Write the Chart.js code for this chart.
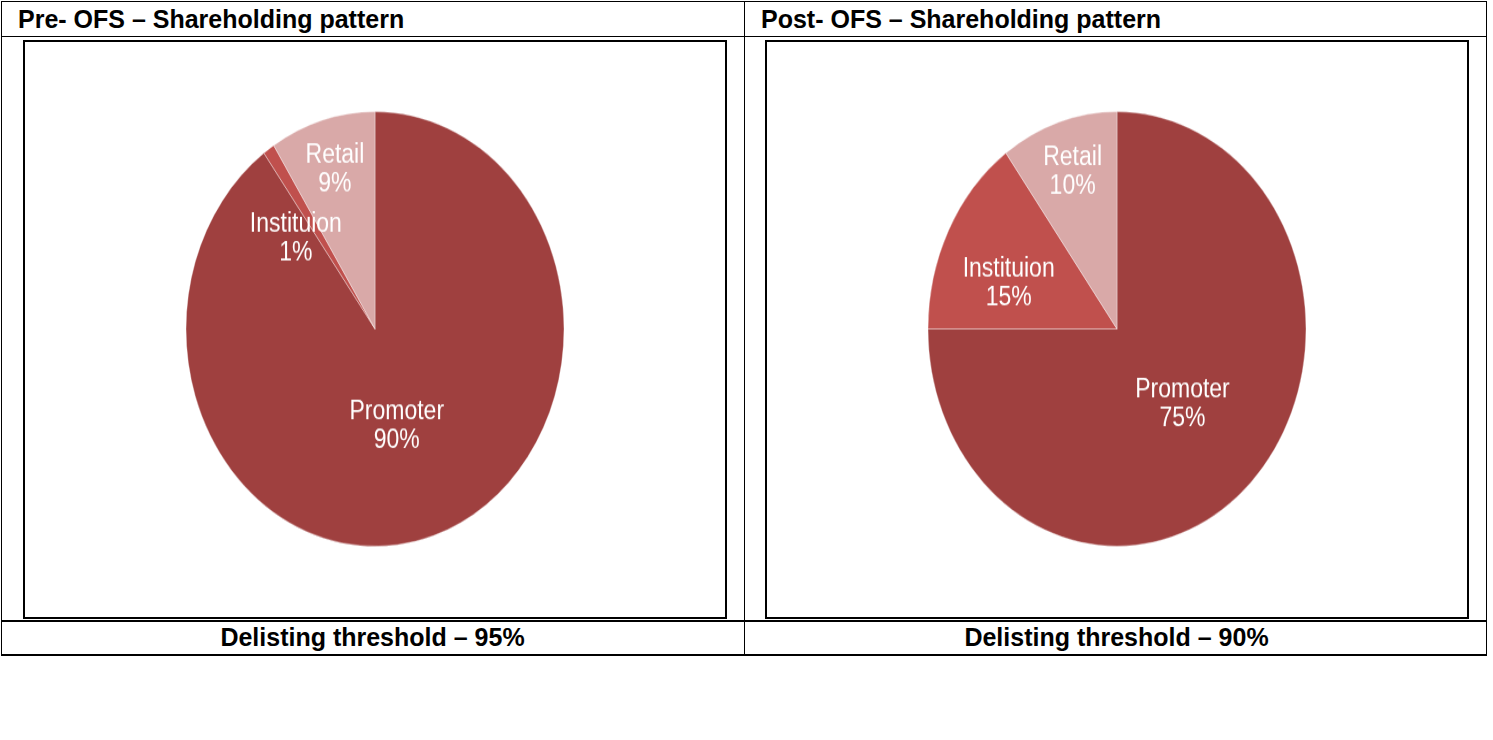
<!DOCTYPE html>
<html lang="en">
  <head>
    <meta charset="UTF-8" />
    <title>Shareholding pattern</title>
    <script src="https://cdn.jsdelivr.net/npm/chart.js"></script>
    <style>
      body {
        margin: 0;
        background: #fff;
        font-family: "Liberation Sans Narrow", "Arial Narrow", "Liberation Sans", Arial, sans-serif;
      }
      .line {
        position: absolute;
        background: #000;
      }
      .head,
      .foot {
        position: absolute;
        font-weight: bold;
        font-size: 25px;
        line-height: 30px;
        color: #000;
        white-space: nowrap;
      }
      .foot {
        text-align: center;
        width: 743px;
      }
      .box {
        position: absolute;
        top: 40px;
        width: 700px;
        height: 575px;
        border: 2px solid #000;
        overflow: hidden;
      }
      .stretch {
        width: 700px;
        height: 500px;
        transform: scaleY(1.15);
        transform-origin: 0 0;
      }
    </style>
  </head>
  <body>
    <!-- table frame -->
    <div class="line" style="left:1px;top:1px;width:1486px;height:1px"></div>
    <div class="line" style="left:1px;top:36px;width:1486px;height:1px"></div>
    <div class="line" style="left:1px;top:620px;width:1486px;height:2px"></div>
    <div class="line" style="left:1px;top:654px;width:1486px;height:2px"></div>
    <div class="line" style="left:1px;top:1px;width:1px;height:655px"></div>
    <div class="line" style="left:744px;top:1px;width:1px;height:655px"></div>
    <div class="line" style="left:1486px;top:1px;width:1px;height:655px"></div>

    <div class="head" style="left:18px;top:4px">Pre- OFS – Shareholding pattern</div>
    <div class="head" style="left:761px;top:4px">Post- OFS – Shareholding pattern</div>

    <div class="box" style="left:23px"><div class="stretch"><canvas id="preChart"></canvas></div></div>
    <div class="box" style="left:765px"><div class="stretch"><canvas id="postChart"></canvas></div></div>

    <div class="foot" style="left:1px;top:622px">Delisting threshold – 95%</div>
    <div class="foot" style="left:745px;top:622px">Delisting threshold – 90%</div>

    <script>
      let categories = ["Promoter", "Instituion", "Retail"];
      let preValues = [90, 1, 9];
      let postValues = [75, 15, 10];
      let sliceColors = ["#9f403f", "#c0504d", "#d9a9a8"];

      // writes "name / value%" on each slice
      const sliceLabels = {
        id: "sliceLabels",
        afterDatasetsDraw(chart, args, opts) {
          const ctx = chart.ctx;
          const meta = chart.getDatasetMeta(0);
          const values = chart.data.datasets[0].data;
          ctx.save();
          ctx.fillStyle = "#fff";
          ctx.font = '23px "Liberation Sans", Arial, sans-serif';
          ctx.textAlign = "center";
          ctx.textBaseline = "middle";
          meta.data.forEach((arc, i) => {
            let p = arc.getProps(["x", "y", "startAngle", "endAngle", "outerRadius"], true);
            let mid = (p.startAngle + p.endAngle) / 2 + (opts.shift[i] * Math.PI) / 180;
            let r = p.outerRadius * opts.radius[i];
            let x = p.x + Math.cos(mid) * r;
            let y = p.y + Math.sin(mid) * r;
            ctx.fillText(chart.data.labels[i], x, y - 12.5);
            ctx.fillText(values[i] + "%", x, y + 12.5);
          });
          ctx.restore();
        },
      };

      function pieChart(id, values, labelRadius, labelShift) {
        const ctx = document.getElementById(id);
        new Chart(ctx, {
          type: "pie",
          data: {
            labels: categories,
            datasets: [
              {
                data: values,
                backgroundColor: sliceColors,
                borderColor: "rgba(255,255,255,0.35)",
                borderWidth: 1,
              },
            ],
          },
          options: {
            responsive: true,
            maintainAspectRatio: false,
            animation: false,
            devicePixelRatio: 1,
            layout: { padding: { top: 60, bottom: 61 } },
            plugins: {
              legend: { display: false },
              tooltip: { enabled: false },
              sliceLabels: { radius: labelRadius, shift: labelShift },
            },
          },
          plugins: [sliceLabels],
        });
      }

      pieChart("preChart", preValues, [0.46, 0.59, 0.76], [3.5, -11, 0]);
      pieChart("postChart", postValues, [0.49, 0.61, 0.76], [0, -7, 0]);
    </script>
  </body>
</html>
